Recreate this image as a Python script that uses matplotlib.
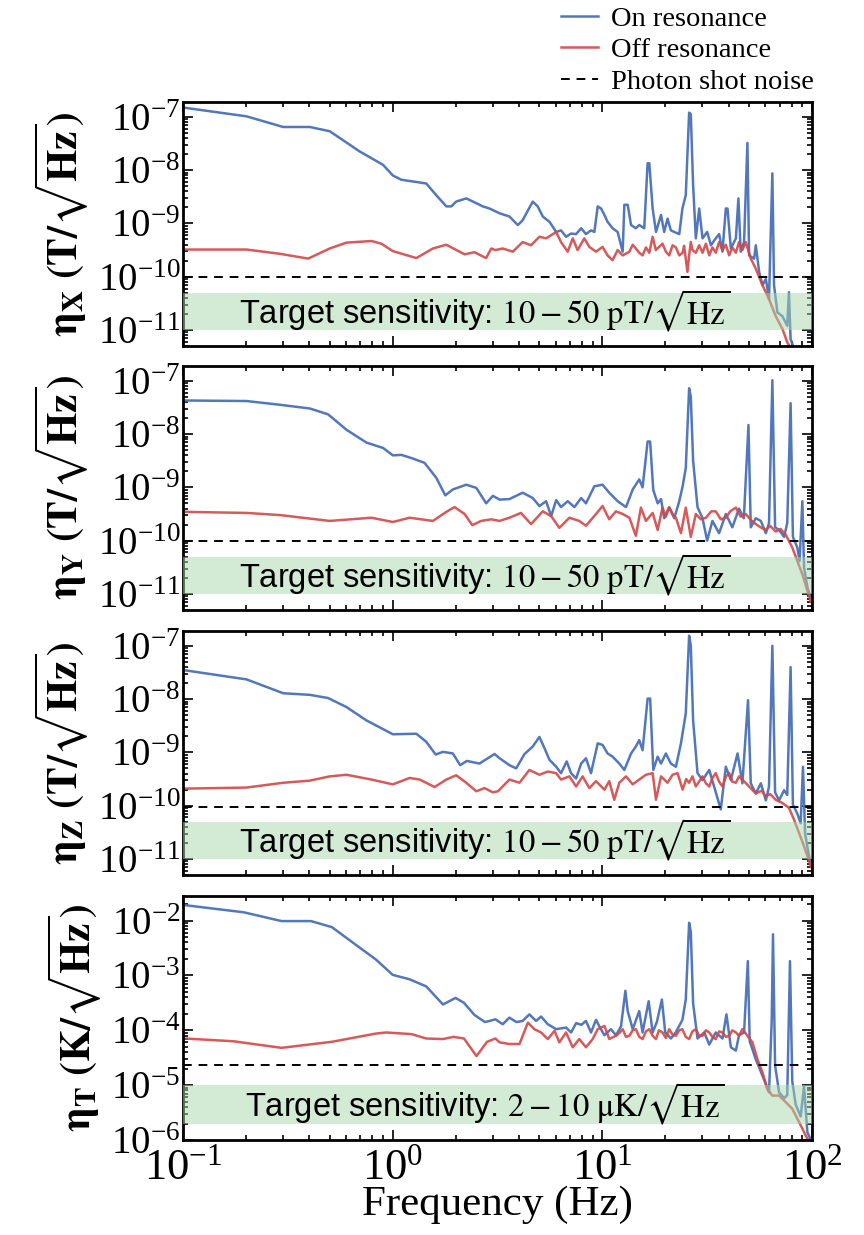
import numpy as np
import matplotlib
matplotlib.use('Agg')
import matplotlib.pyplot as plt
from matplotlib.ticker import LogLocator, NullFormatter
import matplotlib.transforms as mtransforms

plt.rcParams['font.family'] = ['Liberation Serif', 'DejaVu Serif']
plt.rcParams['mathtext.fontset'] = 'stix'

# data, stored as log10(frequency / Hz) and log10(sensitivity)
p1_on_logf = [-0.99, -0.697, -0.522, -0.395, -0.30, -0.157, -0.046, 0.001, 0.041, 0.16, 0.208, 0.256, 0.28, 0.303,
              0.351, 0.383, 0.43, 0.462, 0.51, 0.557, 0.597, 0.62, 0.668, 0.692, 0.716, 0.748, 0.78, 0.803, 0.827,
              0.851, 0.875, 0.899, 0.922, 0.946, 0.962, 0.978, 0.994, 1.01, 1.025, 1.049, 1.073, 1.097, 1.105, 1.121,
              1.137, 1.16, 1.176, 1.20, 1.216, 1.224, 1.24, 1.256, 1.28, 1.295, 1.311, 1.327, 1.343, 1.367, 1.382,
              1.398, 1.414, 1.422, 1.433, 1.446, 1.462, 1.478, 1.50, 1.518, 1.541, 1.557, 1.573, 1.589, 1.597, 1.613,
              1.637, 1.649, 1.66, 1.676, 1.692, 1.70, 1.724, 1.732, 1.748, 1.764, 1.78, 1.795, 1.811, 1.819, 1.835,
              1.859, 1.882, 1.89, 1.898, 1.91]
p1_on_logv = [-6.83, -6.99, -7.19, -7.19, -7.27, -7.65, -7.90, -8.10, -8.18, -8.25, -8.47, -8.68, -8.68, -8.59,
              -8.53, -8.59, -8.68, -8.72, -8.81, -8.87, -9.03, -8.94, -8.59, -8.68, -8.87, -8.97, -9.16, -9.13, -9.25,
              -9.19, -9.20, -9.09, -9.20, -9.13, -9.16, -8.68, -8.72, -8.84, -8.97, -9.09, -9.16, -9.53, -8.65, -8.65,
              -9.03, -9.09, -9.03, -9.09, -7.87, -7.87, -8.72, -9.16, -8.84, -9.16, -8.91, -9.13, -9.16, -9.20, -8.72,
              -8.47, -6.92, -6.95, -8.28, -9.28, -8.72, -9.28, -9.16, -9.41, -9.28, -9.20, -9.53, -8.72, -8.72, -9.47,
              -9.28, -8.53, -9.53, -9.35, -7.49, -9.60, -9.66, -9.41, -9.91, -10.16, -10.04, -10.42, -8.06, -10.16, -10.67,
              -10.74, -10.92, -10.29, -11.17, -11.30]
p1_off_logf = [-0.99, -0.697, -0.538, -0.403, -0.30, -0.22, -0.101, -0.054, 0.001, 0.113, 0.192, 0.256, 0.343, 0.39,
               0.446, 0.47, 0.49, 0.525, 0.573, 0.62, 0.66, 0.70, 0.732, 0.78, 0.803, 0.835, 0.859, 0.882, 0.914,
               0.938, 0.97, 1.001, 1.025, 1.049, 1.073, 1.097, 1.129, 1.145, 1.16, 1.176, 1.192, 1.208, 1.224, 1.24,
               1.255, 1.271, 1.287, 1.303, 1.319, 1.335, 1.351, 1.367, 1.383, 1.39, 1.406, 1.414, 1.422, 1.43, 1.446,
               1.462, 1.478, 1.494, 1.51, 1.525, 1.541, 1.557, 1.573, 1.589, 1.605, 1.62, 1.637, 1.652, 1.668, 1.684,
               1.708, 1.732, 1.764, 1.795, 1.827, 1.859, 1.882, 1.90]
p1_off_logv = [-9.49, -9.49, -9.57, -9.66, -9.47, -9.36, -9.33, -9.38, -9.52, -9.65, -9.47, -9.40, -9.58, -9.54,
               -9.65, -9.47, -9.50, -9.47, -9.53, -9.35, -9.41, -9.25, -9.28, -9.16, -9.35, -9.53, -9.28, -9.50, -9.28,
               -9.44, -9.53, -9.44, -9.60, -9.69, -9.50, -9.60, -9.53, -9.40, -9.47, -9.55, -9.60, -9.45, -9.55, -9.25,
               -9.50, -9.44, -9.38, -9.53, -9.60, -9.41, -9.45, -9.60, -9.55, -9.42, -9.91, -9.60, -9.35, -9.50, -9.55,
               -9.41, -9.55, -9.38, -9.60, -9.45, -9.55, -9.35, -9.50, -9.40, -9.60, -9.45, -9.55, -9.35, -9.50, -9.35,
               -9.66, -9.85, -10.16, -10.42, -10.74, -10.98, -11.23, -11.35]

p2_on_logf = [-0.99, -0.697, -0.538, -0.395, -0.308, -0.22, -0.125, -0.046, 0.001, 0.041, 0.097, 0.152, 0.208, 0.251,
              0.287, 0.351, 0.399, 0.446, 0.478, 0.51, 0.557, 0.62, 0.668, 0.70, 0.732, 0.756, 0.78, 0.803, 0.835,
              0.867, 0.899, 0.922, 0.962, 1.001, 1.033, 1.073, 1.113, 1.145, 1.176, 1.192, 1.216, 1.228, 1.243, 1.264,
              1.28, 1.295, 1.319, 1.343, 1.367, 1.383, 1.398, 1.414, 1.422, 1.433, 1.454, 1.478, 1.50, 1.525, 1.557,
              1.589, 1.62, 1.652, 1.675, 1.697, 1.708, 1.732, 1.756, 1.78, 1.795, 1.811, 1.824, 1.843, 1.867, 1.882,
              1.898, 1.909, 1.93, 1.941, 1.954, 1.962, 1.978, 1.995]
p2_on_logv = [-7.37, -7.38, -7.45, -7.52, -7.63, -7.92, -8.16, -8.26, -8.40, -8.39, -8.46, -8.54, -8.82, -9.15,
              -9.04, -8.95, -9.01, -9.30, -9.16, -9.23, -9.22, -9.10, -9.20, -9.35, -9.26, -9.54, -9.24, -9.37, -9.26,
              -9.37, -9.20, -9.30, -8.98, -8.95, -9.10, -9.26, -9.37, -9.04, -8.85, -9.00, -8.14, -8.14, -9.05, -9.30,
              -9.22, -9.58, -9.37, -9.58, -9.26, -8.98, -8.64, -7.14, -7.30, -8.50, -9.37, -9.58, -10.00, -9.63, -9.86,
              -9.50, -9.75, -9.40, -9.58, -7.83, -9.75, -9.58, -9.63, -9.86, -9.67, -6.99, -9.75, -9.80, -9.93, -9.67,
              -7.42, -9.93, -10.13, -10.38, -9.26, -10.50, -10.87, -11.10]
p2_off_logf = [-0.99, -0.697, -0.538, -0.30, -0.101, 0.001, 0.081, 0.192, 0.256, 0.295, 0.343, 0.38, 0.422, 0.47,
               0.51, 0.557, 0.612, 0.66, 0.716, 0.756, 0.795, 0.843, 0.89, 0.922, 0.97, 1.001, 1.033, 1.065, 1.097,
               1.129, 1.16, 1.184, 1.208, 1.24, 1.264, 1.287, 1.303, 1.319, 1.335, 1.351, 1.375, 1.398, 1.422, 1.446,
               1.47, 1.494, 1.52, 1.541, 1.565, 1.589, 1.61, 1.637, 1.66, 1.684, 1.71, 1.732, 1.755, 1.78, 1.80,
               1.827, 1.85, 1.875, 1.906, 1.93, 1.954, 1.978, 1.995]
p2_off_logv = [-9.46, -9.48, -9.52, -9.63, -9.57, -9.65, -9.57, -9.63, -9.46, -9.37, -9.50, -9.71, -9.63, -9.60,
               -9.63, -9.57, -9.48, -9.69, -9.45, -9.54, -9.76, -9.57, -9.63, -9.72, -9.50, -9.35, -9.60, -9.45, -9.50,
               -9.57, -9.91, -9.38, -9.63, -9.48, -9.80, -9.38, -9.55, -9.38, -9.50, -9.57, -9.86, -9.38, -9.93, -9.50,
               -9.60, -9.57, -9.45, -9.45, -9.60, -9.57, -9.45, -9.38, -9.55, -9.50, -9.62, -9.69, -9.75, -9.80, -9.72,
               -9.83, -9.78, -9.89, -10.13, -10.38, -10.63, -10.94, -11.15]

p3_on_logf = [-0.99, -0.697, -0.522, -0.395, -0.308, -0.22, -0.125, 0.001, 0.113, 0.16, 0.205, 0.24, 0.287, 0.322,
              0.354, 0.414, 0.454, 0.486, 0.51, 0.557, 0.589, 0.629, 0.668, 0.70, 0.724, 0.748, 0.78, 0.803, 0.83,
              0.851, 0.875, 0.899, 0.922, 0.946, 0.978, 1.001, 1.025, 1.049, 1.081, 1.105, 1.137, 1.16, 1.176, 1.192,
              1.216, 1.228, 1.243, 1.264, 1.28, 1.303, 1.327, 1.351, 1.375, 1.398, 1.414, 1.422, 1.433, 1.454, 1.478,
              1.51, 1.533, 1.565, 1.589, 1.613, 1.645, 1.668, 1.695, 1.708, 1.732, 1.756, 1.78, 1.795, 1.811, 1.824,
              1.843, 1.867, 1.882, 1.898, 1.909, 1.93, 1.946, 1.957, 1.967, 1.983, 1.995]
p3_on_logv = [-7.46, -7.63, -7.89, -7.92, -7.98, -8.15, -8.40, -8.66, -8.65, -8.80, -9.04, -8.99, -9.02, -9.24,
              -9.16, -9.21, -9.11, -9.03, -9.11, -9.24, -9.30, -9.03, -8.89, -8.71, -8.92, -9.14, -9.27, -9.39, -9.17,
              -9.39, -9.49, -9.21, -9.11, -9.39, -8.83, -8.86, -9.02, -9.08, -9.21, -9.33, -9.02, -8.89, -8.77, -8.96,
              -7.99, -7.99, -9.33, -9.08, -9.21, -9.02, -9.21, -9.27, -8.83, -8.27, -6.81, -7.00, -8.40, -9.39, -9.52,
              -9.33, -9.64, -10.07, -9.27, -9.52, -9.02, -9.58, -8.02, -9.58, -9.77, -9.58, -9.90, -9.64, -7.00, -9.75,
              -9.90, -9.71, -9.80, -7.40, -9.98, -10.15, -10.33, -9.27, -10.52, -10.89, -11.10]
p3_off_logf = [-0.99, -0.697, -0.522, -0.395, -0.30, -0.22, -0.101, 0.001, 0.081, 0.129, 0.20, 0.256, 0.303, 0.351,
               0.399, 0.438, 0.478, 0.502, 0.557, 0.605, 0.652, 0.70, 0.74, 0.78, 0.803, 0.843, 0.875, 0.906, 0.938,
               0.97, 1.01, 1.033, 1.057, 1.081, 1.113, 1.145, 1.176, 1.208, 1.24, 1.256, 1.28, 1.311, 1.335, 1.359,
               1.383, 1.40, 1.414, 1.43, 1.446, 1.478, 1.494, 1.51, 1.525, 1.541, 1.557, 1.573, 1.59, 1.605, 1.62,
               1.637, 1.652, 1.668, 1.70, 1.732, 1.76, 1.78, 1.80, 1.827, 1.859, 1.89, 1.914, 1.938, 1.962, 1.983, 1.995]
p3_off_logv = [-9.68, -9.66, -9.57, -9.53, -9.45, -9.42, -9.51, -9.60, -9.48, -9.51, -9.65, -9.51, -9.43, -9.57,
               -9.73, -9.67, -9.75, -9.73, -9.51, -9.57, -9.33, -9.42, -9.36, -9.39, -9.51, -9.45, -9.64, -9.45, -9.67,
               -9.54, -9.70, -9.54, -9.89, -9.57, -9.45, -9.60, -9.51, -9.42, -9.39, -9.89, -9.45, -9.57, -9.42, -9.39,
               -9.70, -9.50, -9.57, -9.45, -9.64, -9.45, -9.58, -9.64, -9.48, -9.39, -9.55, -9.64, -9.45, -9.39, -9.55,
               -9.57, -9.45, -9.51, -9.64, -9.77, -9.72, -9.83, -9.78, -9.89, -9.95, -10.04, -10.26, -10.51, -10.76,
               -11.00, -11.15]

p4_on_logf = [-0.99, -0.71, -0.53, -0.39, -0.29, -0.18, -0.08, 0.0, 0.08, 0.16, 0.24, 0.30, 0.34, 0.39, 0.44, 0.462,
              0.49, 0.525, 0.557, 0.59, 0.62, 0.652, 0.684, 0.708, 0.74, 0.78, 0.827, 0.851, 0.875, 0.90, 0.922, 0.946,
              0.97, 0.986, 1.01, 1.041, 1.065, 1.089, 1.11, 1.121, 1.145, 1.176, 1.192, 1.221, 1.24, 1.26, 1.284, 1.30,
              1.327, 1.35, 1.382, 1.398, 1.414, 1.422, 1.433, 1.454, 1.486, 1.51, 1.541, 1.573, 1.592, 1.613, 1.637,
              1.652, 1.676, 1.694, 1.703, 1.732, 1.764, 1.795, 1.808, 1.814, 1.824, 1.843, 1.867, 1.882, 1.895, 1.906,
              1.922, 1.946, 1.962, 1.978, 1.995]
p4_on_logv = [-1.72, -1.85, -2.01, -2.01, -2.12, -2.43, -2.71, -2.99, -3.07, -3.20, -3.53, -3.41, -3.50, -3.72, -3.85,
              -3.83, -3.80, -3.89, -3.77, -3.85, -3.83, -3.71, -3.83, -3.75, -3.89, -3.98, -3.95, -4.04, -3.87, -3.90,
              -3.83, -4.04, -3.81, -3.93, -4.09, -3.98, -4.09, -3.93, -3.28, -3.65, -3.98, -3.65, -4.04, -3.47, -4.04,
              -3.85, -3.44, -4.04, -4.15, -4.04, -3.81, -3.44, -2.04, -2.20, -3.51, -4.15, -4.04, -4.26, -4.04, -4.15,
              -3.71, -4.31, -4.37, -4.09, -4.04, -2.74, -4.20, -4.53, -4.83, -5.13, -3.81, -2.25, -4.64, -5.13, -5.24,
              -5.18, -2.74, -4.93, -5.35, -5.57, -5.02, -5.86, -6.00]
p4_off_logf = [-0.99, -0.76, -0.53, -0.29, -0.08, -0.03, 0.09, 0.16, 0.24, 0.29, 0.34, 0.40, 0.45, 0.49, 0.51, 0.557,
               0.605, 0.645, 0.676, 0.708, 0.74, 0.772, 0.795, 0.827, 0.859, 0.89, 0.922, 0.954, 0.978, 1.01, 1.033,
               1.065, 1.081, 1.097, 1.113, 1.129, 1.145, 1.16, 1.176, 1.192, 1.208, 1.224, 1.24, 1.256, 1.27, 1.287,
               1.303, 1.319, 1.335, 1.351, 1.367, 1.382, 1.398, 1.414, 1.43, 1.446, 1.462, 1.478, 1.494, 1.51, 1.525,
               1.541, 1.557, 1.573, 1.589, 1.605, 1.62, 1.637, 1.652, 1.668, 1.692, 1.716, 1.74, 1.764, 1.787, 1.811,
               1.843, 1.875, 1.906, 1.93, 1.954, 1.97, 1.99]
p4_off_logv = [-4.15, -4.20, -4.32, -4.21, -4.06, -4.04, -4.07, -4.15, -4.16, -4.12, -4.15, -4.47, -4.21, -4.15, -4.22,
               -4.25, -4.25, -3.86, -3.98, -4.04, -4.16, -4.01, -4.22, -4.04, -4.31, -4.16, -4.31, -4.16, -3.98, -3.92,
               -4.16, -4.10, -4.05, -3.98, -4.12, -4.10, -4.00, -3.98, -4.12, -4.16, -4.02, -3.98, -4.10, -4.16, -4.00,
               -4.04, -4.14, -3.98, -4.08, -4.10, -4.00, -3.98, -4.12, -4.16, -4.02, -3.98, -4.10, -4.10, -4.00, -4.04,
               -4.12, -4.16, -4.02, -4.04, -4.12, -4.10, -4.00, -4.04, -4.10, -3.98, -4.10, -4.22, -4.53, -4.77, -5.07,
               -5.19, -5.19, -5.31, -5.43, -5.61, -5.79, -5.92, -6.05]

shot_noise = [1e-10, 1e-10, 0.95e-10, 2.3e-5]
target_band = [(1e-11, 5e-11), (1e-11, 5e-11), (1e-11, 5e-11), (2e-6, 1e-5)]
target_text = [r'$10-50\ \mathrm{pT}/\sqrt{\mathrm{Hz}}$'] * 3 + [r'$2-10\ \mathrm{\mu K}/\sqrt{\mathrm{Hz}}$']
ylabels = [r'$\mathbf{\eta_{X}\ (T/\sqrt{Hz})}$',
           r'$\mathbf{\eta_{Y}\ (T/\sqrt{Hz})}$',
           r'$\mathbf{\eta_{Z}\ (T/\sqrt{Hz})}$',
           r'$\mathbf{\eta_{T}\ (K/\sqrt{Hz})}$']
ylims = [(5e-12, 1.9e-7)] * 3 + [(1e-6, 2.8e-2)]

series = [(p1_on_logf, p1_on_logv, p1_off_logf, p1_off_logv),
          (p2_on_logf, p2_on_logv, p2_off_logf, p2_off_logv),
          (p3_on_logf, p3_on_logv, p3_off_logf, p3_off_logv),
          (p4_on_logf, p4_on_logv, p4_off_logf, p4_off_logv)]

blue = '#4a70b8'
red = '#d24848'

fig = plt.figure(figsize=(8.64, 12.35), dpi=100)
bottoms = [0.7198, 0.5061, 0.2915, 0.0769]
axes = []
for i, (on_f, on_v, off_f, off_v) in enumerate(series):
    ax = fig.add_axes([0.2118, bottoms[i], 0.728, 0.1976])
    axes.append(ax)
    l1, = ax.plot(10**np.array(on_f), 10**np.array(on_v), color=blue, lw=1.8, alpha=0.95, label='On resonance', zorder=2)
    l2, = ax.plot(10**np.array(off_f), 10**np.array(off_v), color=red, lw=1.8, alpha=0.9, label='Off resonance', zorder=2.1)
    l3 = ax.axhline(shot_noise[i], color='k', ls=(0, (4.5, 3.5)), lw=1.4, label='Photon shot noise', zorder=2.2)
    ax.axhspan(*target_band[i], color='#a9d6ab', alpha=0.5, lw=0, zorder=3)
    ymid = np.sqrt(target_band[i][0] * target_band[i][1])
    trans = mtransforms.blended_transform_factory(ax.transAxes, ax.transData)
    ax.text(0.48, ymid, 'Target sensitivity: ' + target_text[i], transform=trans, ha='center', va='center',
            fontsize=23.5, family=['Liberation Sans Narrow', 'Liberation Sans'], zorder=4)
    ax.set_xscale('log')
    ax.set_yscale('log')
    ax.set_xlim(0.1, 100)
    ax.set_ylim(*ylims[i])
    ax.set_ylabel(ylabels[i], fontsize=30, labelpad=5)
    ax.yaxis.set_major_locator(LogLocator(base=10, numticks=20))
    ax.yaxis.set_minor_locator(LogLocator(base=10, subs=np.arange(2, 10), numticks=20))
    ax.yaxis.set_minor_formatter(NullFormatter())
    ax.tick_params(which='both', direction='in', top=True, right=True, width=1.2)
    ax.tick_params(which='major', length=7)
    ax.tick_params(which='minor', length=3.5)
    ax.tick_params(axis='y', labelsize=28, pad=2)
    ax.tick_params(axis='x', labelsize=32, pad=6)
    for s in ax.spines.values():
        s.set_linewidth(2)
    if i < 3:
        ax.tick_params(axis='x', labelbottom=False)
    if i == 0:
        handles = [l1, l2, l3]

axes[3].set_xlabel('Frequency (Hz)', fontsize=31, labelpad=-2)
fig.legend(handles=handles, loc='upper right', bbox_to_anchor=(0.948, 1.0), frameon=False, fontsize=20.5,
           handlelength=1.3, handletextpad=0.45, labelspacing=0.2, borderpad=0.2, borderaxespad=0)

fig.savefig('out.png', dpi=100)
